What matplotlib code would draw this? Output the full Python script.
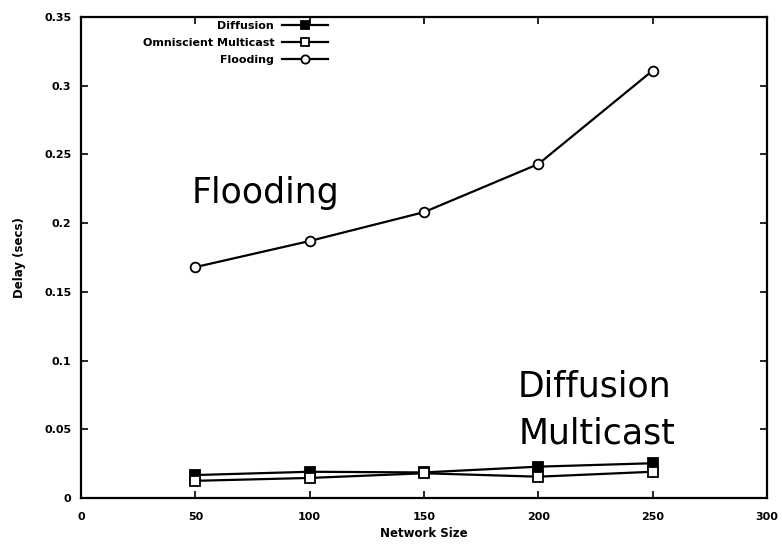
import matplotlib

matplotlib.use("Agg")

import matplotlib.pyplot as plt

network_size = [50, 100, 150, 200, 250]
diffusion_delay = [0.0167, 0.0191, 0.0186, 0.0228, 0.0253]
multicast_delay = [0.0125, 0.0146, 0.0180, 0.0155, 0.0191]
flooding_delay = [0.168, 0.187, 0.208, 0.243, 0.311]

x_ticks = [0, 50, 100, 150, 200, 250, 300]
y_ticks = [0, 0.05, 0.1, 0.15, 0.2, 0.25, 0.3, 0.35]
y_tick_labels = ["0", "0.05", "0.1", "0.15", "0.2", "0.25", "0.3", "0.35"]

plt.rcParams.update({
    "font.family": ["DejaVu Sans"],
    "font.weight": "bold",
})

fig = plt.figure(figsize=(7.82, 5.45), dpi=100)
ax = fig.add_axes([81 / 782, 47 / 545, 686 / 782, 481 / 545])

line_style = dict(color="black", linewidth=1.6, markersize=7, markeredgewidth=1.3)
ax.plot(network_size, diffusion_delay, marker="s", markerfacecolor="black",
        label="Diffusion", **line_style)
ax.plot(network_size, multicast_delay, marker="s", markerfacecolor="white",
        label="Omniscient Multicast", **line_style)
ax.plot(network_size, flooding_delay, marker="o", markerfacecolor="white",
        label="Flooding", **line_style)

ax.set_xlim(0, 300)
ax.set_ylim(0, 0.35)
ax.set_xticks(x_ticks)
ax.set_yticks(y_ticks)
ax.set_yticklabels(y_tick_labels)
ax.tick_params(direction="in", length=5, width=1.2, top=True, right=True,
               labelsize=8)
ax.tick_params(axis="x", pad=10)
ax.tick_params(axis="y", pad=7)
for spine in ax.spines.values():
    spine.set_linewidth(1.6)

ax.set_xlabel("Network Size", fontsize=8.5, fontweight="bold", labelpad=4)
ax.set_ylabel("Delay (secs)", fontsize=8.5, fontweight="bold", labelpad=13)

ax.legend(loc="upper right", bbox_to_anchor=(0.374, 1.012), frameon=False,
          markerfirst=False, handlelength=4.1, handletextpad=0.7,
          labelspacing=0.62, markerscale=0.85,
          prop={"weight": "bold", "size": 8})

# curve annotations
note_style = dict(fontsize=25, family="DejaVu Sans", fontweight="normal", va="baseline")
ax.text(48.5, 0.2147, "Flooding", **note_style)
ax.text(191, 0.0735, "Diffusion", **note_style)
ax.text(191.5, 0.040, "Multicast", **note_style)

fig.savefig("out.png", dpi=100)
